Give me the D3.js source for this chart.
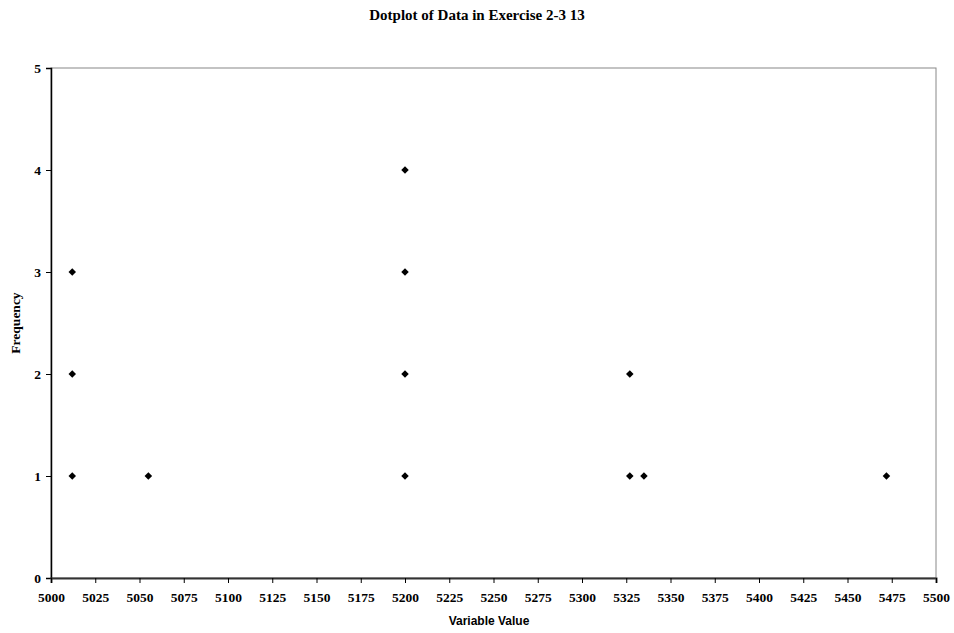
<!DOCTYPE html>
<html>
<head>
<meta charset="utf-8">
<script src="https://cdn.jsdelivr.net/npm/d3@7"></script>
<style>
  body { margin: 0; background: #fff; }
  .tick text { font-family: "Liberation Serif", "Times New Roman", serif; font-weight: bold; font-size: 13.5px; fill: #000; }
</style>
</head>
<body>
<div id="chart"></div>
<script>
// dot positions: value on x, stacked frequency on y
const values = [5012, 5012, 5012, 5055, 5200, 5200, 5200, 5200, 5327, 5327, 5335, 5472];
const freqs  = [1, 2, 3, 1, 1, 2, 3, 4, 1, 2, 1, 1];
const xTicks = d3.range(5000, 5501, 25);
const yTicks = [0, 1, 2, 3, 4, 5];

const w = 954, h = 633;
const plotLeft = 51, plotRight = 936, plotTop = 68, plotBottom = 578;

const svg = d3.select("#chart").append("svg")
  .attr("width", w)
  .attr("height", h);

const x = d3.scaleLinear().domain([5000, 5500]).range([plotLeft, plotRight]);
const y = d3.scaleLinear().domain([0, 5]).range([plotBottom, plotTop]);

// plot frame
svg.append("rect")
  .attr("x", plotLeft).attr("y", plotTop)
  .attr("width", plotRight - plotLeft).attr("height", plotBottom - plotTop)
  .attr("fill", "none").attr("stroke", "#888").attr("stroke-width", 1);

const yAxis = svg.append("g")
  .attr("transform", `translate(${plotLeft},0)`)
  .call(d3.axisLeft(y).tickValues(yTicks).tickSize(5).tickPadding(5).tickFormat(d3.format("d")));
yAxis.select(".domain").attr("stroke", "#000").attr("stroke-width", 1.5);

const xAxis = svg.append("g")
  .attr("transform", `translate(0,${plotBottom})`)
  .call(d3.axisBottom(x).tickValues(xTicks).tickSize(5).tickPadding(9).tickFormat(d3.format("d")));
xAxis.select(".domain").attr("stroke", "#333").attr("stroke-width", 2);

const diamond = d3.symbol().type(d3.symbolDiamond2).size(36);
svg.append("g").selectAll("path")
  .data(values.map((v, i) => [v, freqs[i]]))
  .enter().append("path")
  .attr("d", diamond)
  .attr("transform", d => `translate(${x(d[0])},${y(d[1])})`)
  .attr("fill", "#000");

svg.append("text")
  .attr("x", 477).attr("y", 20)
  .attr("text-anchor", "middle")
  .attr("font-family", "Liberation Serif, Times New Roman, serif")
  .attr("font-weight", "bold").attr("font-size", 15)
  .text("Dotplot of Data in Exercise 2-3 13");

svg.append("text")
  .attr("transform", `translate(20,${(plotTop + plotBottom) / 2}) rotate(-90)`)
  .attr("text-anchor", "middle")
  .attr("font-family", "Liberation Serif, Times New Roman, serif")
  .attr("font-weight", "bold").attr("font-size", 13.5)
  .text("Frequency");

svg.append("text")
  .attr("x", 489).attr("y", 625)
  .attr("text-anchor", "middle")
  .attr("font-family", "Liberation Sans, Arial, sans-serif")
  .attr("font-weight", "bold").attr("font-size", 12)
  .text("Variable Value");
</script>
</body>
</html>
